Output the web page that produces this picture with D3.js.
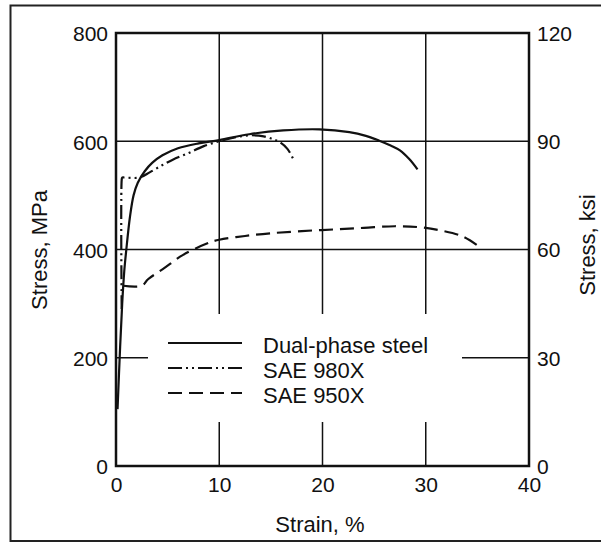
<!DOCTYPE html>
<html lang="en">
<head>
<meta charset="UTF-8">
<title>Stress-strain curves</title>
<script src="https://d3js.org/d3.v7.min.js"></script>
<style>
  body { margin: 0; background: #fff; }
  text { font-family: "Liberation Sans", Arial, Helvetica, sans-serif; fill: #111; }
  .tick text { font-size: 21px; }
</style>
</head>
<body>
<script>
// data: [strain %, stress MPa]
const dualPhase = [[0.15,105],[0.4,220],[0.6,300],[0.8,360],[1.0,400],[1.35,460],[1.7,500],[2.1,523],
  [2.8,545],[3.5,560],[4.5,574],[6,587],[8,596],[10,602],[12.9,613],[16.2,620],[19.7,622],[22.6,617],
  [24.2,610],[25.5,601],[26.6,592],[27.5,583],[28.4,567],[29.2,548]];
const sae980 = [[0.55,290],[0.55,528],[0.6,533],[0.8,533],[2.3,533],[3.3,543],[4.5,556],[5.5,566],
  [7,578],[8.5,591],[10,600],[11.5,607],[13,611],[14.3,609],[15.3,603],[15.9,598],[16.6,586],[17.2,566]];
const sae950 = [[0.7,333],[2.5,333],[3.1,345],[4.7,366],[6.5,390],[8.8,411],[10,418],[12.5,425],
  [15,430],[18,434],[21,437],[24,440],[27,443],[29.5,441],[31.5,435],[33.6,424],[35.2,405]];

const seriesNames = ["Dual-phase steel", "SAE 980X", "SAE 950X"];
const seriesDash = [null, "14,4,2,4,2,4", "14,7"];
const seriesData = [dualPhase, sae980, sae950];

const strainTicks = [0, 10, 20, 30, 40];
const mpaTicks = [0, 200, 400, 600, 800];
const ksiTicks = [0, 30, 60, 90, 120];

const width = 601, height = 548;
const plotLeft = 116, plotRight = 529, plotTop = 33, plotBottom = 466;

const svg = d3.select("body").append("svg")
  .attr("width", width)
  .attr("height", height);

// outer frame of the scanned figure
svg.append("rect")
  .attr("x", 10.5).attr("y", 5.5)
  .attr("width", 620).attr("height", 535.5)
  .attr("fill", "none").attr("stroke", "#222").attr("stroke-width", 2);

const x = d3.scaleLinear().domain([0, 40]).range([plotLeft, plotRight]);
const y = d3.scaleLinear().domain([0, 800]).range([plotBottom, plotTop]);
const yKsi = d3.scaleLinear().domain([0, 120]).range([plotBottom, plotTop]);

// grid
svg.append("g").selectAll("line")
  .data(strainTicks.slice(1, -1))
  .enter().append("line")
  .attr("x1", d => x(d)).attr("x2", d => x(d))
  .attr("y1", plotTop).attr("y2", plotBottom)
  .attr("stroke", "#111").attr("stroke-width", 1.5);

svg.append("g").selectAll("line")
  .data(mpaTicks.slice(1, -1))
  .enter().append("line")
  .attr("x1", plotLeft).attr("x2", plotRight)
  .attr("y1", d => y(d)).attr("y2", d => y(d))
  .attr("stroke", "#111").attr("stroke-width", 1.5);

// legend background hides the grid behind it
svg.append("rect")
  .attr("x", 148).attr("y", 314)
  .attr("width", 314).attr("height", 108)
  .attr("fill", "#fff");

// axes
svg.append("g")
  .attr("transform", "translate(" + plotLeft + ",0)")
  .call(d3.axisLeft(y).tickValues(mpaTicks).tickSize(0).tickPadding(8))
  .call(g => g.select(".domain").remove())
  .selectAll("text").attr("dy", "0.38em");

svg.append("g")
  .attr("transform", "translate(" + plotRight + ",0)")
  .call(d3.axisRight(yKsi).tickValues(ksiTicks).tickSize(0).tickPadding(8))
  .call(g => g.select(".domain").remove())
  .selectAll("text").attr("dy", "0.35em");

svg.append("g")
  .attr("transform", "translate(0," + plotBottom + ")")
  .call(d3.axisBottom(x).tickValues(strainTicks).tickSize(0).tickPadding(11))
  .call(g => g.select(".domain").remove());

svg.append("rect")
  .attr("x", plotLeft).attr("y", plotTop)
  .attr("width", plotRight - plotLeft).attr("height", plotBottom - plotTop)
  .attr("fill", "none").attr("stroke", "#111").attr("stroke-width", 2.5);

// curves
const line = d3.line()
  .x(d => x(d[0]))
  .y(d => y(d[1]))
  .curve(d3.curveCatmullRom.alpha(0.5));

svg.append("g").selectAll("path")
  .data(seriesData)
  .enter().append("path")
  .attr("d", line)
  .attr("fill", "none")
  .attr("stroke", "#111")
  .attr("stroke-width", 2.2)
  .attr("stroke-dasharray", (d, i) => seriesDash[i]);

// legend
const legend = svg.append("g");
seriesNames.forEach((name, i) => {
  const ly = 343 + i * 25;
  legend.append("line")
    .attr("x1", 168).attr("x2", 242)
    .attr("y1", ly).attr("y2", ly)
    .attr("stroke", "#111").attr("stroke-width", 2)
    .attr("stroke-dasharray", seriesDash[i]);
  legend.append("text")
    .attr("x", 263).attr("y", ly + 10)
    .attr("font-size", "22px")
    .text(name);
});

// axis titles
svg.append("text")
  .attr("x", 320).attr("y", 532)
  .attr("text-anchor", "middle")
  .attr("font-size", "22px")
  .text("Strain, %");

svg.append("text")
  .attr("transform", "translate(47,250) rotate(-90)")
  .attr("text-anchor", "middle")
  .attr("font-size", "22px")
  .text("Stress, MPa");

svg.append("text")
  .attr("transform", "translate(595,245) rotate(-90)")
  .attr("text-anchor", "middle")
  .attr("font-size", "22px")
  .text("Stress, ksi");
</script>
</body>
</html>
